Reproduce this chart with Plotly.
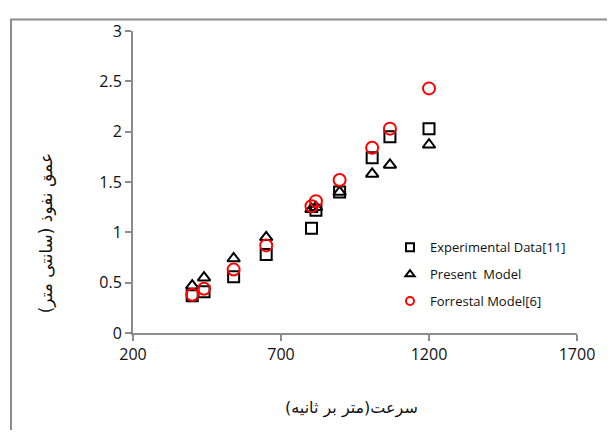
import plotly.graph_objects as go

velocity = [400, 440, 540, 650, 803, 818, 898, 1008, 1068, 1200]
experimental = [0.37, 0.41, 0.56, 0.78, 1.04, 1.22, 1.40, 1.74, 1.95, 2.03]
present_model = [0.47, 0.55, 0.74, 0.95, 1.23, 1.25, 1.40, 1.58, 1.67, 1.87]
forrestal = [0.38, 0.44, 0.63, 0.87, 1.26, 1.31, 1.52, 1.84, 2.03, 2.43]

names = ["Experimental Data[11]", "Present  Model", "Forrestal Model[6]"]
x_ticks = [200, 700, 1200, 1700]
y_ticks = [0, 0.5, 1, 1.5, 2, 2.5, 3]

# page has an 8px body margin; work in page pixel coordinates
OFF = 8
W, H = 615 - 2 * OFF, 438 - 2 * OFF
L, T = 133 - OFF, 21 - OFF
R = W - (577 - OFF)
B = H - (333 - OFF)
pw, ph = W - L - R, H - T - B

def px2paper_x(px):
    return (px - OFF - L) / pw

def px2paper_y(py):
    return (H - B - (py - OFF)) / ph

symbols = ["square-open", "triangle-up-open", "circle-open"]
colors = ["black", "black", "#ff0000"]
series = [experimental, present_model, forrestal]
sizes = [11, 11, 12]

fig = go.Figure()
for i in range(3):
    fig.add_trace(go.Scatter(x=velocity, y=series[i], mode="markers", name=names[i],
                             showlegend=False,
                             marker=dict(symbol=symbols[i], size=sizes[i], color=colors[i],
                                         line=dict(width=2, color=colors[i]))))
for i in range(3):
    fig.add_trace(go.Scatter(x=[None], y=[None], mode="markers", name=names[i],
                             legendgroup=str(i), showlegend=True,
                             marker=dict(symbol=symbols[i], size=8, color=colors[i],
                                         line=dict(width=2, color=colors[i]))))

axis_color = "#8c8c8c"
fig.update_xaxes(range=[200, 1700], tickvals=x_ticks, showgrid=False, zeroline=False,
                 showline=True, linecolor=axis_color, linewidth=2,
                 ticks="outside", ticklen=6, tickcolor=axis_color, tickwidth=2,
                 tickfont=dict(family="Open Sans", size=16, color="#111111"))
fig.update_yaxes(range=[0, 3], tickvals=y_ticks, showgrid=False, zeroline=False,
                 showline=True, linecolor=axis_color, linewidth=2,
                 ticks="outside", ticklen=6, tickcolor=axis_color, tickwidth=2,
                 tickfont=dict(family="Open Sans", size=16, color="#111111"))

fig.update_layout(
    width=W, height=H,
    margin=dict(l=L, r=R, t=T, b=B, pad=0),
    paper_bgcolor="white", plot_bgcolor="white",
    showlegend=True,
    legend=dict(x=px2paper_x(390), y=px2paper_y(229), xanchor="left", yanchor="top",
                bgcolor="rgba(0,0,0,0)", font=dict(family="Open Sans", size=13, color="#111111"),
                itemwidth=30, traceorder="grouped", tracegroupgap=7),
    shapes=[dict(type="rect", xref="paper", yref="paper",
                 x0=px2paper_x(11), x1=px2paper_x(700),
                 y0=px2paper_y(600), y1=px2paper_y(9),
                 line=dict(color="#8c8c8c", width=2), fillcolor="rgba(0,0,0,0)", layer="below")],
    annotations=[
        dict(text="عمق نفوذ (سانتی متر)", xref="paper", yref="paper",
             x=px2paper_x(46), y=px2paper_y(230), xanchor="center", yanchor="middle",
             textangle=-90, showarrow=False,
             font=dict(family="DejaVu Sans", size=17, color="#111111")),
        dict(text="سرعت(متر بر ثانیه)", xref="paper", yref="paper",
             x=px2paper_x(351), y=px2paper_y(410), xanchor="center", yanchor="middle",
             showarrow=False,
             font=dict(family="DejaVu Sans", size=16, color="#111111")),
    ],
)

fig.write_html("out.html")
